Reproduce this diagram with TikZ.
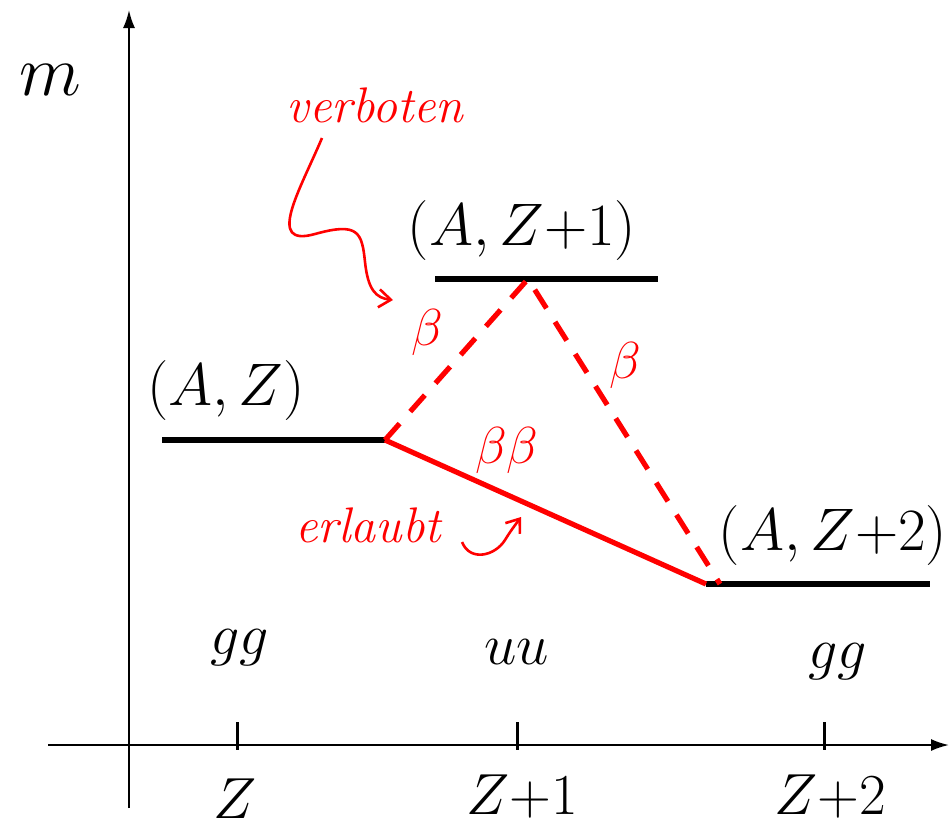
\RequirePackage{fix-cm}
\documentclass[tikz,border=0pt]{standalone}
\usepackage{tikz}
\usetikzlibrary{positioning,arrows.meta}

\begin{document}
\begin{tikzpicture}[
  x=0.5pt, y=-0.5pt,
  every node/.style={font=\fontsize{29}{33}\selectfont, inner sep=1pt},
  axis/.style={line width=1pt, -{Latex[length=9pt,width=6pt]}},
  tick/.style={line width=1.5pt},
  level/.style={line width=3pt},
  levellabel/.style={font=\fontsize{30}{34}\selectfont},
  allowed/.style={red, line width=2.6pt},
  forbidden/.style={red, line width=2.6pt, dash pattern=on 11pt off 8pt},
  note/.style={red, font=\fontsize{25}{29}\selectfont\itshape},
  decay/.style={red, font=\fontsize{26}{30}\selectfont},
  hint/.style={red, line width=1.3pt, -{Straight Barb[length=6pt,width=9pt]}}
]
\useasboundingbox (0,0) rectangle (952,831);
% Axes
\coordinate (ybot) at (129,808);
\coordinate (ytop) at (129,10);
\coordinate (xleft) at (48,745);
\coordinate (xright) at (949,745);
\draw[axis] (ybot) -- (ytop);
\draw[axis] (xleft) -- (xright);
\node[font=\fontsize{36}{40}\selectfont] (mlab) at (50,80) {$m$};
% Ticks and charge labels
\foreach \x/\name in {237/t0, 517/t1, 824/t2}{
  \coordinate (\name top) at (\x,722);
  \coordinate (\name bot) at (\x,750);
  \draw[tick] (\name top) -- (\name bot);
}
\node (z0) at (235,799) {$Z$};
\node (z1) at (522,797) {$Z{+}1$};
\node (z2) at (830,797) {$Z{+}2$};
\node (gg0) at (240,648) {$gg$};
\node (uu1) at (517,652) {$uu$};
\node (gg2) at (838,662) {$gg$};
% Mass levels
\coordinate (l0a) at (162,440);
\coordinate (l0b) at (385,440);
\coordinate (l1a) at (435,279);
\coordinate (l1m) at (528,279);
\coordinate (l1b) at (658,279);
\coordinate (l2a) at (706,584);
\coordinate (l2d) at (720,584);
\coordinate (l2b) at (930,584);
\draw[level] (l0a) -- (l0b);
\draw[level] (l1a) -- (l1b);
\draw[level] (l2a) -- (l2b);
\node[levellabel] (AZ) at (226,390) {$(A,Z)$};
\node[levellabel] (AZ1) at (522,230) {$(A,Z{+}1)$};
\node[levellabel] (AZ2) at (833,535) {$(A,Z{+}2)$};
% Decays
\draw[forbidden] (l0b) -- (l1m) -- (l2d);
\draw[allowed] (l0b) -- (l2a);
\node[decay] (b1) at (427,332) {$\beta$};
\node[decay] (b2) at (625,365) {$\beta$};
\node[decay] (bb) at (507,450) {$\beta\beta$};
% Remarks
\node[note] (verb) at (375,105) {verboten};
\node[note] (erl) at (368,525) {erlaubt};
\coordinate (vstart) at (322,138);
\coordinate (vtip) at (393,300);
\coordinate (estart) at (462,542);
\coordinate (etip) at (521,517);
\draw[hint] (vstart) .. controls (300,190) and (265,248) .. (315,234)
  .. controls (358,222) and (362,232) .. (365,262)
  .. controls (368,290) and (376,298) .. (vtip);
\draw[hint] (estart) .. controls (470,562) and (495,556) .. (505,540)
  .. controls (510,532) .. (etip);
\end{tikzpicture}
\end{document}
